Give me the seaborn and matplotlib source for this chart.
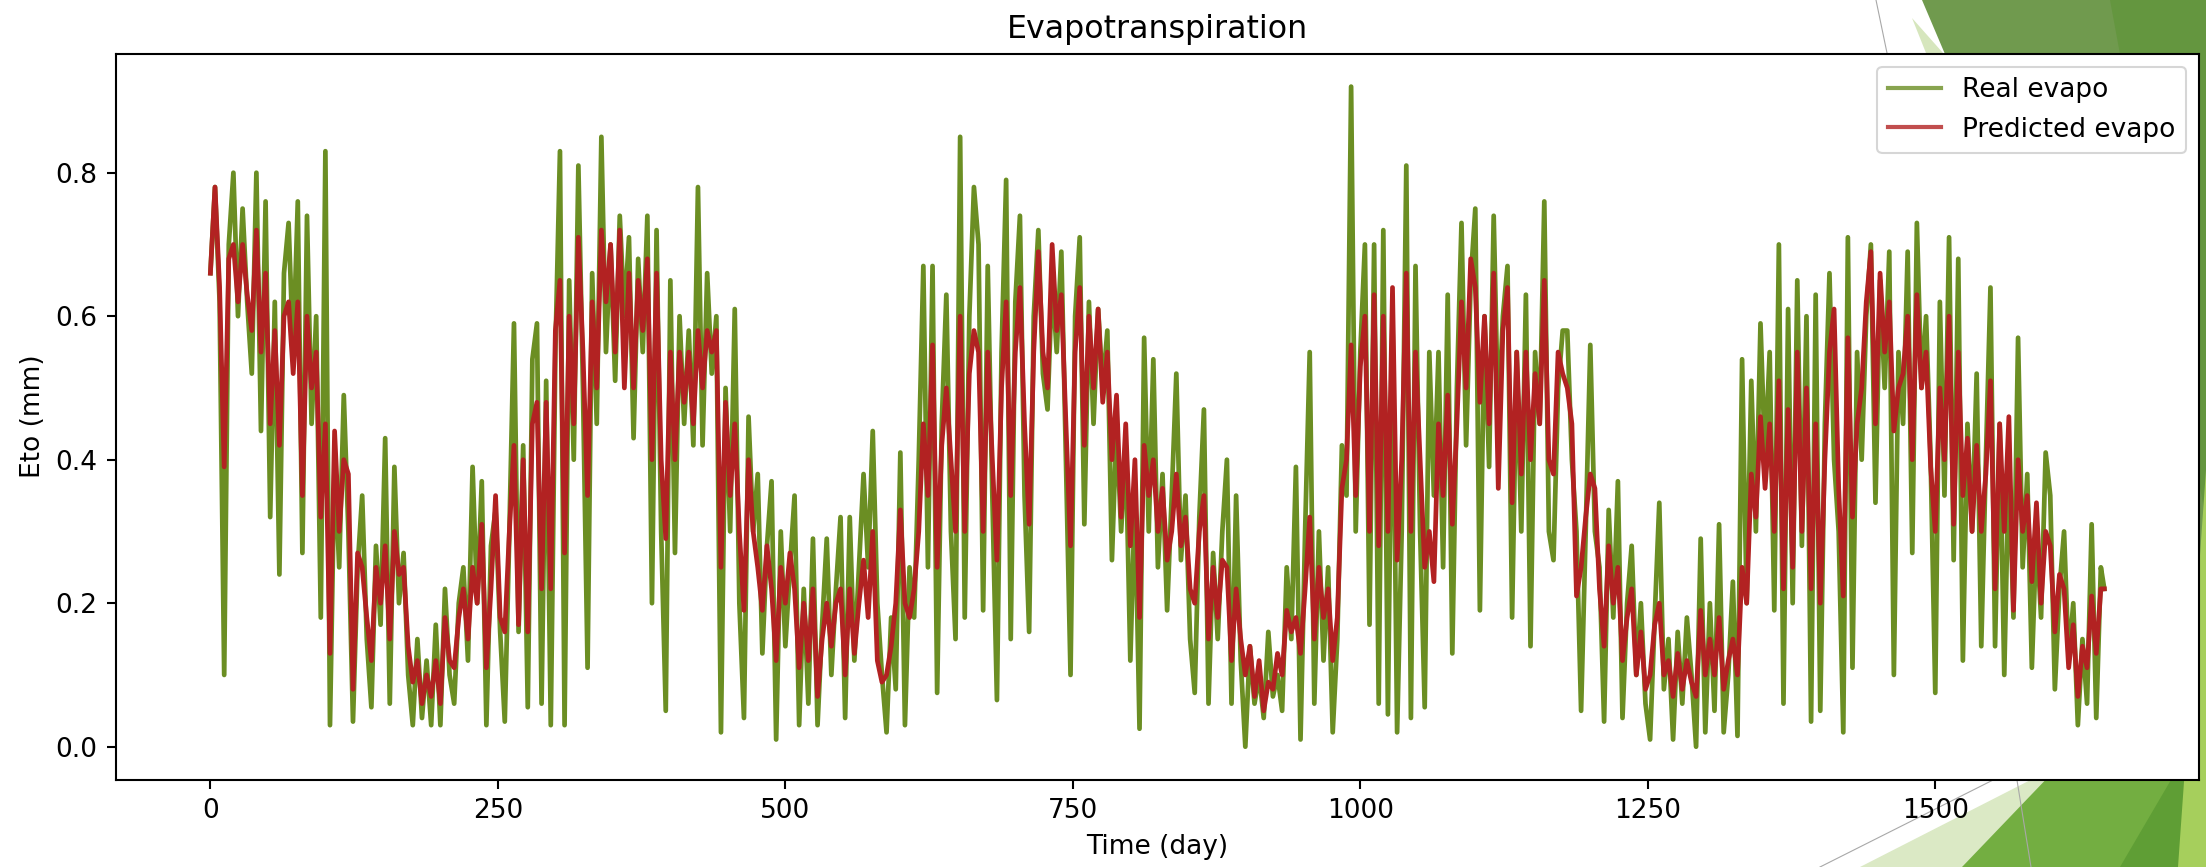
import numpy as np
import pandas as pd
import matplotlib
matplotlib.use("Agg")
import matplotlib.pyplot as plt
from matplotlib.patches import Polygon
from matplotlib.lines import Line2D
import seaborn as sns

days = list(range(0, 1648, 4)) + [1647]

real_evapo = [
    # 0-96
    0.66,0.78,0.62,0.10,0.70,0.80,0.60,0.75,0.62,0.52,0.80,0.44,0.76,0.32,0.62,0.24,0.66,0.73,0.55,0.76,0.27,0.74,0.45,0.60,0.18,
    # 100-196
    0.83,0.03,0.40,0.25,0.49,0.30,0.035,0.25,0.35,0.15,0.055,0.28,0.17,0.43,0.06,0.39,0.20,0.27,0.10,0.03,0.15,0.04,0.12,0.03,0.17,
    # 200-296
    0.03,0.22,0.10,0.06,0.20,0.25,0.12,0.39,0.20,0.37,0.03,0.28,0.33,0.16,0.035,0.30,0.59,0.16,0.42,0.055,0.54,0.59,0.06,0.51,0.03,
    # 300-396
    0.55,0.83,0.03,0.65,0.40,0.81,0.50,0.11,0.66,0.45,0.85,0.55,0.70,0.51,0.74,0.60,0.71,0.43,0.68,0.55,0.74,0.20,0.72,0.30,0.05,
    # 400-496
    0.65,0.27,0.60,0.45,0.58,0.42,0.78,0.42,0.66,0.52,0.60,0.02,0.50,0.30,0.61,0.20,0.04,0.46,0.30,0.38,0.13,0.28,0.37,0.01,0.30,
    # 500-596
    0.14,0.25,0.35,0.03,0.22,0.06,0.29,0.03,0.17,0.29,0.10,0.22,0.32,0.04,0.32,0.12,0.25,0.38,0.25,0.44,0.20,0.10,0.02,0.18,0.08,
    # 600-696
    0.41,0.03,0.25,0.18,0.40,0.67,0.25,0.67,0.075,0.45,0.63,0.30,0.15,0.85,0.18,0.60,0.78,0.70,0.19,0.67,0.35,0.065,0.55,0.79,0.15,
    # 700-796
    0.62,0.74,0.35,0.16,0.60,0.72,0.52,0.47,0.65,0.55,0.69,0.40,0.10,0.60,0.71,0.31,0.62,0.45,0.61,0.50,0.58,0.26,0.45,0.30,0.42,
    # 800-896
    0.12,0.35,0.025,0.57,0.30,0.54,0.25,0.38,0.19,0.35,0.52,0.26,0.35,0.15,0.075,0.32,0.47,0.06,0.27,0.15,0.30,0.40,0.06,0.35,0.12,
    # 900-996
    0.00,0.14,0.06,0.10,0.04,0.16,0.07,0.10,0.05,0.25,0.15,0.39,0.01,0.30,0.55,0.06,0.30,0.12,0.25,0.02,0.15,0.42,0.35,0.92,0.30,
    # 1000-1096
    0.55,0.70,0.17,0.70,0.06,0.72,0.045,0.60,0.02,0.30,0.81,0.04,0.67,0.30,0.055,0.55,0.35,0.55,0.25,0.63,0.13,0.50,0.73,0.42,0.65,
    # 1100-1196
    0.75,0.19,0.60,0.39,0.74,0.45,0.60,0.67,0.18,0.55,0.30,0.63,0.14,0.55,0.45,0.76,0.30,0.26,0.50,0.58,0.58,0.40,0.30,0.05,0.30,
    # 1200-1296
    0.56,0.30,0.25,0.035,0.33,0.18,0.37,0.04,0.20,0.28,0.10,0.20,0.06,0.01,0.18,0.34,0.08,0.15,0.01,0.16,0.06,0.18,0.10,0.00,0.29,
    # 1300-1396
    0.02,0.20,0.05,0.31,0.02,0.10,0.23,0.015,0.54,0.20,0.51,0.30,0.59,0.40,0.55,0.19,0.70,0.06,0.61,0.20,0.65,0.28,0.60,0.035,0.63,
    # 1400-1496
    0.05,0.45,0.66,0.40,0.30,0.02,0.71,0.11,0.55,0.40,0.60,0.70,0.34,0.65,0.50,0.69,0.10,0.55,0.45,0.69,0.27,0.73,0.50,0.60,0.40,
    # 1500-1596
    0.075,0.62,0.35,0.71,0.26,0.68,0.12,0.45,0.30,0.52,0.14,0.40,0.64,0.14,0.45,0.10,0.40,0.18,0.57,0.25,0.38,0.11,0.30,0.18,0.41,
    # 1600-1647
    0.35,0.08,0.22,0.30,0.12,0.20,0.03,0.15,0.06,0.31,0.04,0.25,0.22,
]

predicted_evapo = [
    # 0-96
    0.66,0.78,0.64,0.39,0.68,0.70,0.62,0.70,0.63,0.58,0.72,0.55,0.66,0.45,0.58,0.42,0.60,0.62,0.52,0.62,0.35,0.60,0.50,0.55,0.32,
    # 100-196
    0.45,0.13,0.44,0.30,0.40,0.38,0.08,0.27,0.25,0.18,0.12,0.25,0.20,0.28,0.15,0.30,0.24,0.25,0.14,0.09,0.12,0.06,0.10,0.07,0.12,
    # 200-296
    0.06,0.18,0.12,0.11,0.18,0.22,0.15,0.25,0.20,0.31,0.11,0.22,0.35,0.18,0.16,0.30,0.42,0.17,0.40,0.16,0.45,0.48,0.22,0.48,0.22,
    # 300-396
    0.58,0.65,0.27,0.60,0.45,0.71,0.55,0.35,0.62,0.50,0.72,0.62,0.70,0.55,0.72,0.50,0.66,0.50,0.65,0.58,0.68,0.40,0.66,0.40,0.29,
    # 400-496
    0.55,0.40,0.55,0.48,0.55,0.45,0.58,0.50,0.58,0.55,0.58,0.25,0.48,0.35,0.45,0.30,0.19,0.40,0.30,0.25,0.19,0.28,0.22,0.12,0.25,
    # 500-596
    0.20,0.27,0.22,0.11,0.20,0.12,0.22,0.07,0.15,0.20,0.14,0.20,0.22,0.10,0.22,0.13,0.20,0.26,0.18,0.30,0.12,0.09,0.10,0.14,0.20,
    # 600-696
    0.33,0.20,0.18,0.22,0.30,0.45,0.35,0.56,0.25,0.42,0.50,0.40,0.30,0.60,0.30,0.52,0.58,0.55,0.30,0.55,0.40,0.26,0.50,0.62,0.35,
    # 700-796
    0.55,0.64,0.45,0.31,0.55,0.69,0.55,0.50,0.70,0.58,0.63,0.45,0.28,0.55,0.64,0.42,0.60,0.50,0.61,0.48,0.55,0.40,0.49,0.32,0.45,
    # 800-896
    0.28,0.40,0.18,0.42,0.35,0.40,0.30,0.36,0.26,0.30,0.38,0.28,0.32,0.22,0.20,0.30,0.35,0.15,0.25,0.18,0.26,0.25,0.12,0.22,0.15,
    # 900-996
    0.10,0.14,0.07,0.12,0.05,0.09,0.08,0.13,0.10,0.19,0.16,0.18,0.13,0.22,0.32,0.15,0.25,0.18,0.22,0.12,0.18,0.36,0.40,0.56,0.35,
    # 1000-1096
    0.53,0.60,0.30,0.63,0.28,0.60,0.30,0.64,0.26,0.40,0.66,0.30,0.55,0.40,0.25,0.30,0.23,0.45,0.35,0.49,0.31,0.45,0.62,0.50,0.68,
    # 1100-1196
    0.64,0.48,0.60,0.45,0.66,0.36,0.58,0.64,0.34,0.55,0.38,0.55,0.40,0.52,0.45,0.65,0.40,0.38,0.55,0.52,0.50,0.45,0.21,0.25,0.32,
    # 1200-1296
    0.38,0.36,0.22,0.14,0.28,0.20,0.25,0.12,0.18,0.22,0.10,0.16,0.08,0.10,0.17,0.20,0.10,0.12,0.07,0.13,0.08,0.12,0.09,0.07,0.19,
    # 1300-1396
    0.10,0.15,0.10,0.18,0.08,0.12,0.15,0.10,0.25,0.20,0.38,0.32,0.46,0.36,0.45,0.30,0.51,0.22,0.47,0.25,0.55,0.30,0.50,0.22,0.45,
    # 1400-1496
    0.20,0.40,0.55,0.61,0.36,0.21,0.57,0.32,0.45,0.50,0.62,0.69,0.45,0.66,0.55,0.62,0.44,0.50,0.52,0.60,0.40,0.63,0.50,0.55,0.39,
    # 1500-1596
    0.30,0.50,0.40,0.60,0.31,0.55,0.35,0.43,0.30,0.42,0.30,0.38,0.51,0.22,0.45,0.30,0.46,0.19,0.40,0.30,0.35,0.23,0.34,0.20,0.30,
    # 1600-1647
    0.28,0.16,0.24,0.22,0.11,0.17,0.07,0.14,0.11,0.21,0.13,0.22,0.22,
]

series_labels = ["Real evapo", "Predicted evapo"]
title_text = "Evapotranspiration"
x_label = "Time (day)"
y_label = "Eto (mm)"

df = pd.DataFrame({"day": days, "real": real_evapo, "pred": predicted_evapo})

# ---------------- figure ----------------
W, H = 2206, 867
fig = plt.figure(figsize=(W / 100, H / 100), dpi=100, facecolor="white")
ax = fig.add_axes([115.7 / W, 1 - 779.7 / H, (2199 - 115.7) / W, (779.7 - 53.6) / H])
ax.set_facecolor("white")

# slide decoration behind the figure (pixel positions of the background shapes)
def deco(pts, color, z=-10):
    p = Polygon([(x / W, 1 - y / H) for x, y in pts], closed=True,
                transform=fig.transFigure, facecolor=color, edgecolor="none", zorder=z)
    fig.patches.append(p)

deco([(1922, 0), (2120, 0), (2206, 300), (2206, 640), (1990, 160)], "#709a4e")
deco([(2110, 0), (2206, 0), (2206, 520)], "#64963f")
deco([(1912, 18), (1943, 53), (1926, 53)], "#d6e6bd", z=-9)
deco([(1860, 867), (2050, 770), (2206, 770), (2206, 867)], "#dbe9c5", z=-9)
deco([(1962, 867), (2055, 770), (2206, 560), (2206, 867)], "#73ae41", z=-8)
deco([(2120, 867), (2206, 720), (2206, 867)], "#5f9e35", z=-7)
deco([(2178, 867), (2206, 470), (2206, 867)], "#a6cf5c", z=-6)
for (x0, y0, x1, y1) in [(1876, 0, 1887, 53), (1820, 867, 2005, 774), (2016, 774, 2031, 867)]:
    fig.lines.append(Line2D([x0 / W, x1 / W], [1 - y0 / H, 1 - y1 / H], transform=fig.transFigure,
                            color="#a8a8a8", lw=0.8, zorder=-5))

lw = 3.4
sns.lineplot(data=df, x="day", y="real", color="#6b8e23", lw=lw, label=series_labels[0], ax=ax)
sns.lineplot(data=df, x="day", y="pred", color="#b22222", lw=lw, label=series_labels[1], ax=ax)

ax.set_title(title_text, fontsize=22.8, pad=11)
ax.set_xlabel(x_label, fontsize=19, labelpad=7)
ax.set_ylabel(y_label, fontsize=19, labelpad=7)
ax.set_xticks([0, 250, 500, 750, 1000, 1250, 1500])
ax.set_yticks([0.0, 0.2, 0.4, 0.6, 0.8])
ax.tick_params(labelsize=19, length=6.6, width=1.5, pad=6.6)
for s in ax.spines.values():
    s.set_linewidth(1.5)
    s.set_color("black")

leg = ax.legend(loc="upper right", fontsize=19, frameon=True, borderaxespad=0.5)
leg.get_frame().set_edgecolor("#cccccc")
leg.get_frame().set_linewidth(1.5)
for h in leg.get_lines():
    h.set_linewidth(3.0)
    h.set_alpha(0.8)

fig.savefig("out.png", dpi=100, facecolor=fig.get_facecolor())
